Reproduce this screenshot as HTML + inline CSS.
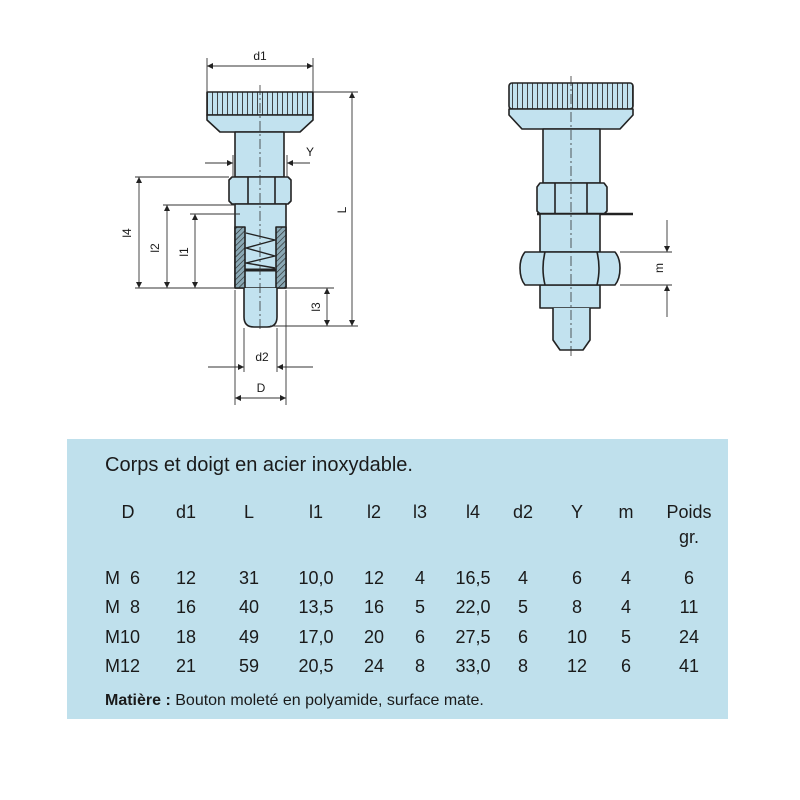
<!DOCTYPE html>
<html><head><meta charset="utf-8"><style>
html,body{margin:0;padding:0;background:#fff;}
svg{display:block;}
text{font-family:"Liberation Sans",Arial,sans-serif;fill:#1a1a1a;}
</style></head><body>
<svg width="800" height="800" viewBox="0 0 800 800" xmlns="http://www.w3.org/2000/svg">
<defs>
<marker id="a" viewBox="0 0 10 10" refX="10" refY="5" markerWidth="8" markerHeight="6" orient="auto-start-reverse" markerUnits="userSpaceOnUse"><path d="M0,0L10,5L0,10z" fill="#222"/></marker>
<pattern id="kn" width="5" height="10" patternUnits="userSpaceOnUse"><rect width="5" height="10" fill="#c2e2ef"/><line x1="2.5" y1="0" x2="2.5" y2="10" stroke="#333" stroke-width="0.9"/></pattern>
<pattern id="ht" width="4" height="4" patternUnits="userSpaceOnUse" patternTransform="rotate(45)"><rect width="4" height="4" fill="#8aa8b4"/><line x1="0" y1="0" x2="0" y2="4" stroke="#222" stroke-width="1.2"/></pattern>
</defs>
<g stroke="#222" stroke-width="1.6" fill="#c2e2ef" stroke-linejoin="round">
<rect x="207" y="92" width="106" height="23" fill="url(#kn)"/>
<path d="M207,115 L313,115 L313,120 L300,132 L220,132 L207,120 Z"/>
<rect x="235" y="132" width="49" height="45"/>
<path d="M229,180 L232,177 L288,177 L291,180 L291,201 L288,204 L232,204 L229,201 Z"/>
<line x1="248" y1="177" x2="248" y2="204"/><line x1="275" y1="177" x2="275" y2="204"/>
<rect x="235" y="204" width="51" height="84"/>
<rect x="235" y="227" width="10" height="61" fill="url(#ht)"/>
<rect x="276" y="227" width="10" height="61" fill="url(#ht)"/>
<path d="M244,288 L244,317 Q244,327 254,327 L267,327 Q277,327 277,317 L277,288" />
<polyline points="246,233 275,240 246,248 275,256 246,263 275,268" fill="none" stroke-width="1.4"/>
<line x1="245" y1="270" x2="276" y2="270" stroke-width="3"/>
<rect x="509" y="83" width="124" height="26" rx="3" fill="url(#kn)"/>
<path d="M509,109 L633,109 L633,115 L620,129 L522,129 L509,115 Z"/>
<rect x="543" y="129" width="57" height="54"/>
<path d="M537,187 L540,183 L604,183 L607,187 L607,211 L604,214 L540,214 L537,211 Z"/>
<line x1="555" y1="183" x2="555" y2="214"/><line x1="587" y1="183" x2="587" y2="214"/>
<line x1="537" y1="214" x2="633" y2="214" stroke-width="2.5"/>
<rect x="540" y="214" width="60" height="38"/>
<rect x="540" y="285" width="60" height="23"/>
<path d="M553,308 L553,340 L560,350 L583,350 L590,340 L590,308"/>
<path d="M525,252 L615,252 Q620,258 620,268 Q620,279 615,285 L525,285 Q520,279 520,268 Q520,258 525,252 Z"/>
<path d="M545,252 Q541,268 545,285 M597,252 Q601,268 597,285" fill="none"/>
</g>
<g stroke="#333" stroke-width="0.8" stroke-dasharray="10,3,2,3" fill="none">
<line x1="260" y1="85" x2="260" y2="332"/>
<line x1="571" y1="76" x2="571" y2="356"/>
</g>
<g stroke="#333" stroke-width="0.9" fill="none">
<line x1="207" y1="58" x2="207" y2="92"/><line x1="313" y1="58" x2="313" y2="92"/>
<line x1="207" y1="66" x2="313" y2="66" marker-start="url(#a)" marker-end="url(#a)"/>
<line x1="313" y1="92" x2="358" y2="92"/>
<line x1="352" y1="92" x2="352" y2="326" marker-start="url(#a)" marker-end="url(#a)"/>
<line x1="270" y1="326" x2="358" y2="326"/>
<line x1="205" y1="163" x2="233" y2="163" marker-end="url(#a)"/>
<line x1="310" y1="163" x2="287" y2="163" marker-end="url(#a)"/>
<line x1="233" y1="155" x2="233" y2="177"/><line x1="287" y1="155" x2="287" y2="177"/>
<line x1="135" y1="177" x2="229" y2="177"/>
<line x1="139" y1="177" x2="139" y2="288" marker-start="url(#a)" marker-end="url(#a)"/>
<line x1="163" y1="205" x2="235" y2="205"/>
<line x1="167" y1="205" x2="167" y2="288" marker-start="url(#a)" marker-end="url(#a)"/>
<line x1="190" y1="214" x2="240" y2="214"/>
<line x1="195" y1="214" x2="195" y2="288" marker-start="url(#a)" marker-end="url(#a)"/>
<line x1="135" y1="288" x2="235" y2="288"/>
<line x1="286" y1="288" x2="334" y2="288"/>
<line x1="327" y1="288" x2="327" y2="326" marker-start="url(#a)" marker-end="url(#a)"/>
<line x1="235" y1="290" x2="235" y2="405"/><line x1="286" y1="290" x2="286" y2="405"/>
<line x1="244" y1="328" x2="244" y2="372"/><line x1="277" y1="328" x2="277" y2="372"/>
<line x1="208" y1="367" x2="244" y2="367" marker-end="url(#a)"/>
<line x1="313" y1="367" x2="277" y2="367" marker-end="url(#a)"/>
<line x1="235" y1="398" x2="286" y2="398" marker-start="url(#a)" marker-end="url(#a)"/>
<line x1="620" y1="252" x2="672" y2="252"/><line x1="620" y1="285" x2="672" y2="285"/>
<line x1="667" y1="220" x2="667" y2="252" marker-end="url(#a)"/>
<line x1="667" y1="317" x2="667" y2="285" marker-end="url(#a)"/>
</g>
<g font-size="12">
<text x="260" y="60" text-anchor="middle">d1</text>
<text x="310" y="156" text-anchor="middle">Y</text>
<text x="262" y="361" text-anchor="middle">d2</text>
<text x="261" y="392" text-anchor="middle">D</text>
<text transform="translate(131,233) rotate(-90)" text-anchor="middle">l4</text>
<text transform="translate(159,248) rotate(-90)" text-anchor="middle">l2</text>
<text transform="translate(188,252) rotate(-90)" text-anchor="middle">l1</text>
<text transform="translate(320,307) rotate(-90)" text-anchor="middle">l3</text>
<text transform="translate(346,210) rotate(-90)" text-anchor="middle">L</text>
<text transform="translate(663,268) rotate(-90)" text-anchor="middle">m</text>
</g>
<rect x="67" y="439" width="661" height="280" fill="#bfe0ec"/>
<text x="105" y="471" font-size="20">Corps et doigt en acier inoxydable.</text>
<g font-size="18" text-anchor="middle">
<text x="128" y="518">D</text><text x="186" y="518">d1</text><text x="249" y="518">L</text>
<text x="316" y="518">l1</text><text x="374" y="518">l2</text><text x="420" y="518">l3</text>
<text x="473" y="518">l4</text><text x="523" y="518">d2</text><text x="577" y="518">Y</text>
<text x="626" y="518">m</text><text x="689" y="518">Poids</text><text x="689" y="543">gr.</text>
</g>
<g font-size="18">
<text x="105" y="584">M</text><text x="105" y="613">M</text><text x="105" y="643">M10</text><text x="105" y="672">M12</text>
</g>
<g font-size="18" text-anchor="end">
<text x="140" y="584">6</text><text x="140" y="613">8</text>
</g>
<g font-size="18" text-anchor="middle">
<text x="186" y="584">12</text><text x="249" y="584">31</text><text x="316" y="584">10,0</text><text x="374" y="584">12</text><text x="420" y="584">4</text><text x="473" y="584">16,5</text><text x="523" y="584">4</text><text x="577" y="584">6</text><text x="626" y="584">4</text><text x="689" y="584">6</text>
<text x="186" y="613">16</text><text x="249" y="613">40</text><text x="316" y="613">13,5</text><text x="374" y="613">16</text><text x="420" y="613">5</text><text x="473" y="613">22,0</text><text x="523" y="613">5</text><text x="577" y="613">8</text><text x="626" y="613">4</text><text x="689" y="613">11</text>
<text x="186" y="643">18</text><text x="249" y="643">49</text><text x="316" y="643">17,0</text><text x="374" y="643">20</text><text x="420" y="643">6</text><text x="473" y="643">27,5</text><text x="523" y="643">6</text><text x="577" y="643">10</text><text x="626" y="643">5</text><text x="689" y="643">24</text>
<text x="186" y="672">21</text><text x="249" y="672">59</text><text x="316" y="672">20,5</text><text x="374" y="672">24</text><text x="420" y="672">8</text><text x="473" y="672">33,0</text><text x="523" y="672">8</text><text x="577" y="672">12</text><text x="626" y="672">6</text><text x="689" y="672">41</text>
</g>
<text x="105" y="705" font-size="16"><tspan font-weight="bold">Matière :</tspan> Bouton moleté en polyamide, surface mate.</text>
</svg>
</body></html>
